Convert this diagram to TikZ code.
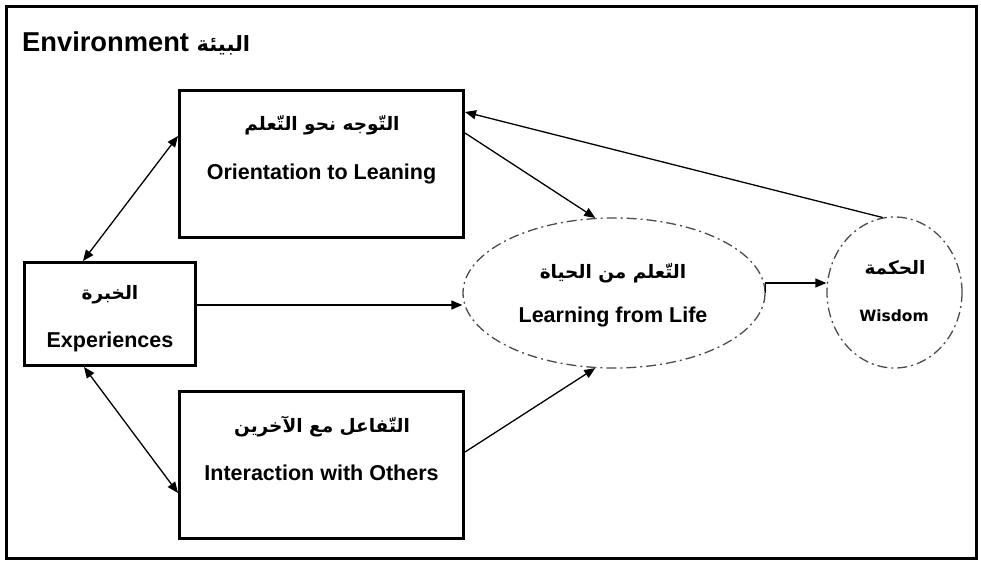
\documentclass[tikz,border=0pt]{standalone}
\usepackage{fontspec}
\setmainfont{Liberation Sans}
\newfontfamily\arabicfont[Script=Arabic]{DejaVu Sans}
\newfontfamily\wisfont{DejaVu Sans}
\TeXXeTstate=1
\usetikzlibrary{shapes.geometric,arrows.meta}
\begin{document}
\begin{tikzpicture}[x=1pt,y=-1pt,
  box/.style={draw, line width=3pt, inner sep=0pt},
  oval/.style={ellipse, draw=black!70, line width=1.3pt, dash pattern=on 10pt off 4pt on 2pt off 4pt, inner sep=0pt},
  arr/.style={line width=1.3pt, -{Triangle[length=11pt,width=9pt]}},
  biarr/.style={line width=1.3pt, {Triangle[length=11pt,width=9pt]}-{Triangle[length=11pt,width=9pt]}},
  en/.style={font=\bfseries\fontsize{21.5}{25}\selectfont, anchor=base, inner sep=0pt},
  ar/.style={font=\arabicfont\bfseries\fontsize{18.5}{22}\selectfont, inner sep=0pt}
]
\useasboundingbox (0,0) rectangle (981,565);
\node[draw, line width=3.5pt, minimum width=970pt, minimum height=552pt, inner sep=0pt] (frame) at (491.5,282.5) {};
% boxes
\node[box, minimum width=284pt, minimum height=147pt] (orient) at (321.5,164) {};
\node[box, minimum width=171pt, minimum height=103pt] (exper) at (110,314) {};
\node[box, minimum width=284pt, minimum height=147pt] (inter) at (321.5,465) {};
\node[oval, minimum width=302pt, minimum height=150pt] (learn) at (614,293) {};
\node[oval, minimum width=135pt, minimum height=151pt] (wisdom) at (894.5,292.5) {};
% texts
\node[anchor=base west, inner sep=0pt, font=\bfseries\fontsize{27.3}{31}\selectfont] (env) at (22,51) {Environment {\arabicfont\fontsize{21}{24}\selectfont\beginR البيئة\endR}};
\node[ar] (oar) at (322,125) {\beginR التّوجه نحو التّعلم\endR};
\node[en] (oen) at (321.5,179) {Orientation to Leaning};
\node[ar] (ear) at (110,295) {\beginR الخبرة\endR};
\node[en] (een) at (110,347) {Experiences};
\node[ar] (lar) at (613,273) {\beginR التّعلم من الحياة\endR};
\node[en] (len) at (613,322) {Learning from Life};
\node[ar] (war) at (895,268) {\beginR الحكمة\endR};
\node[en, font=\wisfont\bfseries\fontsize{15.5}{18}\selectfont] (wen) at (894,321) {Wisdom};
\node[ar] (iar) at (322,427) {\beginR التّفاعل مع الآخرين\endR};
\node[en] (ien) at (321.5,480) {Interaction with Others};
% connectors
\draw[biarr] ([xshift=60pt]exper.north west) -- ([yshift=-47pt]orient.north west);
\draw[biarr] ([xshift=61pt]exper.south west) -- ([yshift=47pt]inter.south west);
\draw[arr] ([yshift=31pt]orient.east) -- (learn.104);
\draw[arr] ([yshift=13pt]inter.east) -- (learn.256);
\draw[arr] (wisdom.99) -- ([yshift=52pt]orient.east);
\coordinate (e1) at ([yshift=9pt]exper.east);
\draw[arr] (e1) -- (e1 -| learn.west);
\coordinate (l1) at ([yshift=10pt]learn.east);
\draw[arr] (learn.east) -- (l1) -- (l1 -| wisdom.west);
\end{tikzpicture}
\end{document}
